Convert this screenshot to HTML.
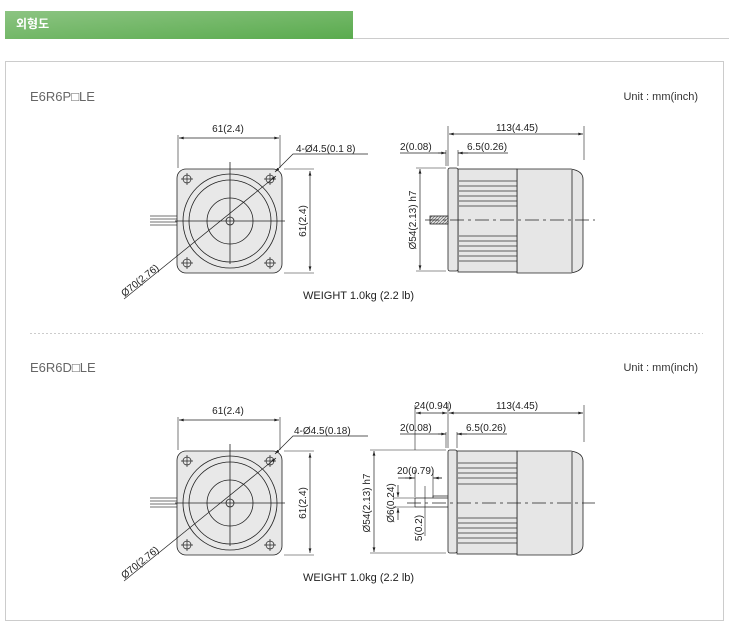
<!DOCTYPE html>
<html><head><meta charset="utf-8"><style>
body{margin:0;background:#fff;width:729px;height:637px;overflow:hidden;font-family:"Liberation Sans","Noto Sans CJK KR",sans-serif}
</style></head><body>
<svg width="729" height="637" viewBox="0 0 729 637" xmlns="http://www.w3.org/2000/svg" font-family="Liberation Sans, Noto Sans CJK KR, sans-serif">
<defs>
<linearGradient id="hg" x1="0" y1="0" x2="1" y2="1">
<stop offset="0" stop-color="#8cc482"/><stop offset="1" stop-color="#5aab4e"/></linearGradient>
<marker id="ar" viewBox="0 0 10 6" refX="10" refY="3" markerWidth="7" markerHeight="4" orient="auto-start-reverse"><path d="M0,0L10,3L0,6z" fill="#222"/></marker>
<pattern id="hat" width="3" height="3" patternUnits="userSpaceOnUse"><rect width="3" height="3" fill="#ddd"/><path d="M0,3L3,0" stroke="#555" stroke-width="0.6"/></pattern>
<g id="front" stroke="#222" fill="none" stroke-width="0.8">
<path d="M150,216h28M150,219h28M150,222h28M150,225h28" stroke="#444"/>
<rect x="177" y="169" width="105" height="104" rx="9" fill="#e8e8e8"/>
<circle cx="230" cy="221" r="47" fill="#e8e8e8"/>
<circle cx="230" cy="221" r="41"/>
<circle cx="230" cy="221" r="23"/>
<circle cx="230" cy="221" r="4"/>
<path d="M230,162v102M175,221h110"/>
<g stroke-width="0.7"><circle cx="187" cy="179" r="4"/><path d="M181,179h12M187,173v12"/>
<circle cx="270" cy="179" r="4"/><path d="M264,179h12M270,173v12"/>
<circle cx="187" cy="263" r="4"/><path d="M181,263h12M187,257v12"/>
<circle cx="270" cy="263" r="4"/><path d="M264,263h12M270,257v12"/></g>
<path d="M124,299L276,176" stroke-width="0.7" marker-end="url(#ar)"/>
<path d="M178,168v-33M280,168v-33" stroke-width="0.6"/>
<path d="M179,138h100" marker-start="url(#ar)" marker-end="url(#ar)" stroke-width="0.7"/>
<path d="M284,169h30M284,273h30" stroke-width="0.6"/>
<path d="M310,171v100" marker-start="url(#ar)" marker-end="url(#ar)" stroke-width="0.7"/>
<path d="M275,172L293,154h75" stroke-width="0.7" marker-start="url(#ar)"/>
</g>
</defs>
<rect x="5" y="11" width="348" height="28" fill="url(#hg)"/>
<text x="16" y="28" font-size="12" font-weight="bold" fill="#fff">외형도</text>
<line x1="353" y1="38.5" x2="729" y2="38.5" stroke="#ccc"/>
<rect x="5.5" y="61.5" width="718" height="559" fill="none" stroke="#ccc"/>
<line x1="30" y1="333.5" x2="703" y2="333.5" stroke="#ccc" stroke-dasharray="2,2"/>
<g fill="#666" font-size="13"><text x="30" y="101">E6R6P□LE</text><text x="30" y="372">E6R6D□LE</text></g>
<g fill="#333" font-size="11"><text x="698" y="100" text-anchor="end">Unit : mm(inch)</text><text x="698" y="371" text-anchor="end">Unit : mm(inch)</text></g>

<use href="#front"/>
<use href="#front" y="282"/>
<g font-size="10" fill="#222">
<text x="228" y="132" text-anchor="middle">61(2.4)</text>
<text x="296" y="152">4-Ø4.5(0.1 8)</text>
<text transform="translate(306,221) rotate(-90)" text-anchor="middle">61(2.4)</text>
<text transform="translate(142,283) rotate(-38.9)" text-anchor="middle">Ø70(2.76)</text>
<text x="303" y="299" font-size="11">WEIGHT 1.0kg (2.2 lb)</text>
<text x="228" y="414" text-anchor="middle">61(2.4)</text>
<text x="294" y="434">4-Ø4.5(0.18)</text>
<text transform="translate(306,503) rotate(-90)" text-anchor="middle">61(2.4)</text>
<text transform="translate(142,565) rotate(-38.9)" text-anchor="middle">Ø70(2.76)</text>
<text x="303" y="581" font-size="11">WEIGHT 1.0kg (2.2 lb)</text>
</g>

<!-- side view top -->
<g stroke="#222" stroke-width="0.8" fill="none">
<path d="M517,169h54q12,2 12,10v84q0,8-12,10h-54z" fill="#e6e6e6"/>
<path d="M572,170v102"/>
<rect x="458" y="169" width="59" height="103" fill="#e6e6e6"/>
<rect x="448" y="168" width="10" height="103" rx="2" fill="#e6e6e6"/>
<g stroke="#333"><path d="M459,181h58M459,186h58M459,191h58M459,196h58M459,201h58M459,206h58M459,236h58M459,241h58M459,246h58M459,251h58M459,256h58M459,261h58"/></g>
<rect x="430" y="216" width="18" height="8" fill="url(#hat)"/>
<path d="M425,220h170" stroke-dasharray="14,4,3,4" stroke-width="0.7"/>
<g stroke-width="0.6"><path d="M448,166v-40M584,160v-34M446,166v-16M458,166v-16M416,168h30M416,271h30"/></g>
<path d="M449,134h134" marker-start="url(#ar)" marker-end="url(#ar)" stroke-width="0.7"/>
<path d="M400,153h46M458,153h50" stroke-width="0.7"/>
<path d="M438,153h8" marker-end="url(#ar)" stroke-width="0.7"/><path d="M468,153h-10" marker-end="url(#ar)" stroke-width="0.7"/>
<path d="M420,169v101" marker-start="url(#ar)" marker-end="url(#ar)" stroke-width="0.7"/>
</g>
<g font-size="10" fill="#222">
<text x="517" y="131" text-anchor="middle">113(4.45)</text>
<text x="400" y="150">2(0.08)</text>
<text x="467" y="150">6.5(0.26)</text>
<text transform="translate(416,220) rotate(-90)" text-anchor="middle">Ø54(2.13) h7</text>
</g>

<!-- side view bottom -->
<g stroke="#222" stroke-width="0.8" fill="none">
<path d="M517,451h54q12,2 12,10v84q0,8-12,10h-54z" fill="#e6e6e6"/>
<path d="M572,452v102"/>
<rect x="457" y="451" width="60" height="103" fill="#e6e6e6"/>
<rect x="448" y="450" width="9" height="103" rx="2" fill="#e6e6e6"/>
<g stroke="#333"><path d="M458,463h59M458,468h59M458,473h59M458,478h59M458,484h59M458,518h59M458,523h59M458,528h59M458,533h59M458,538h59M458,543h59"/></g>
<path d="M415,498h33M415,507h33M415,498v9M433,498v-2h15" stroke-width="0.7"/>
<path d="M407,503h188" stroke-dasharray="14,4,3,4" stroke-width="0.7"/>
<g stroke-width="0.6"><path d="M415,450v-45M448,448v-45M584,442v-37M446,448v-16M457,448v-16M370,450h76M370,553h76M415,470v27M433,470v27M393,498h22M393,507h22M425,486v50"/></g>
<path d="M416,413h31" marker-start="url(#ar)" marker-end="url(#ar)" stroke-width="0.7"/>
<path d="M449,413h134" marker-start="url(#ar)" marker-end="url(#ar)" stroke-width="0.7"/>
<path d="M400,434h46M457,434h50" stroke-width="0.7"/>
<path d="M438,434h8" marker-end="url(#ar)" stroke-width="0.7"/><path d="M467,434h-10" marker-end="url(#ar)" stroke-width="0.7"/>
<path d="M398,478h17M433,478h9" stroke-width="0.7"/>
<path d="M405,478h9" marker-end="url(#ar)" stroke-width="0.7"/><path d="M442,478h-8" marker-end="url(#ar)" stroke-width="0.7"/>
<path d="M374,451v101" marker-start="url(#ar)" marker-end="url(#ar)" stroke-width="0.7"/>
<path d="M398,485v12" marker-end="url(#ar)" stroke-width="0.7"/><path d="M398,520v-12" marker-end="url(#ar)" stroke-width="0.7"/>
</g>
<g font-size="10" fill="#222">
<text x="433" y="409" text-anchor="middle">24(0.94)</text>
<text x="517" y="409" text-anchor="middle">113(4.45)</text>
<text x="400" y="431">2(0.08)</text>
<text x="466" y="431">6.5(0.26)</text>
<text x="397" y="474">20(0.79)</text>
<text transform="translate(370,503) rotate(-90)" text-anchor="middle">Ø54(2.13) h7</text>
<text transform="translate(394,503) rotate(-90)" text-anchor="middle">Ø6(0.24)</text>
<text transform="translate(422,528) rotate(-90)" text-anchor="middle">5(0.2)</text>
</g>
</svg>
</body></html>
